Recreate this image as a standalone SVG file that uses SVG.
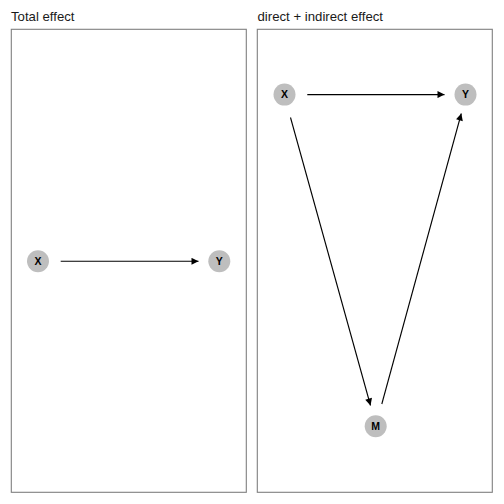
<svg xmlns="http://www.w3.org/2000/svg" width="504" height="504" viewBox="0 0 504 504">
<defs>
<style>
.title{font-family:"Liberation Sans",Arial,sans-serif;font-size:13.2px;fill:#1a1a1a}
.panel{fill:#ffffff;stroke:#7f7f7f;stroke-width:1.1}
.node circle{fill:#bebebe}
.node text{font-family:"Liberation Sans",Arial,sans-serif;font-size:10.5px;font-weight:bold;fill:#000;text-anchor:middle}
.edge{stroke:#000;stroke-width:1.1;fill:none;marker-end:url(#ah)}
</style>
<marker id="ah" viewBox="0 0 10 10" refX="10" refY="5" markerWidth="8" markerHeight="7" markerUnits="userSpaceOnUse" orient="auto">
<path d="M0,0 L10,5 L0,10 Z" fill="#000"/>
</marker>
</defs>
<rect width="504" height="504" fill="#ffffff"/>
<text class="title" x="11" y="20.5">Total effect</text>
<text class="title" x="257.5" y="20.5">direct + indirect effect</text>
<rect class="panel" x="11.3" y="29.3" width="235" height="463"/>
<rect class="panel" x="257.3" y="29.3" width="235" height="463"/>
<g id="connectors">
<line class="edge" x1="60.7" y1="261.3" x2="198.5" y2="261.3"/>
<line class="edge" x1="307.3" y1="94.6" x2="444.5" y2="94.6"/>
<line class="edge" x1="290.5" y1="117.5" x2="370.5" y2="405.5"/>
<line class="edge" x1="381.8" y1="404" x2="461.3" y2="113.5"/>
</g>
<g id="node-X-left" class="node"><circle cx="38" cy="261.3" r="11"/><text x="38" y="265">X</text></g>
<g id="node-Y-left" class="node"><circle cx="219.3" cy="261.3" r="11"/><text x="219.3" y="265">Y</text></g>
<g id="node-X-right" class="node"><circle cx="284.5" cy="94.6" r="11"/><text x="284.5" y="98.3">X</text></g>
<g id="node-Y-right" class="node"><circle cx="465.5" cy="94.6" r="11"/><text x="465.5" y="98.3">Y</text></g>
<g id="node-M" class="node"><circle cx="375.7" cy="426.2" r="11"/><text x="375.7" y="429.9">M</text></g>
</svg>
